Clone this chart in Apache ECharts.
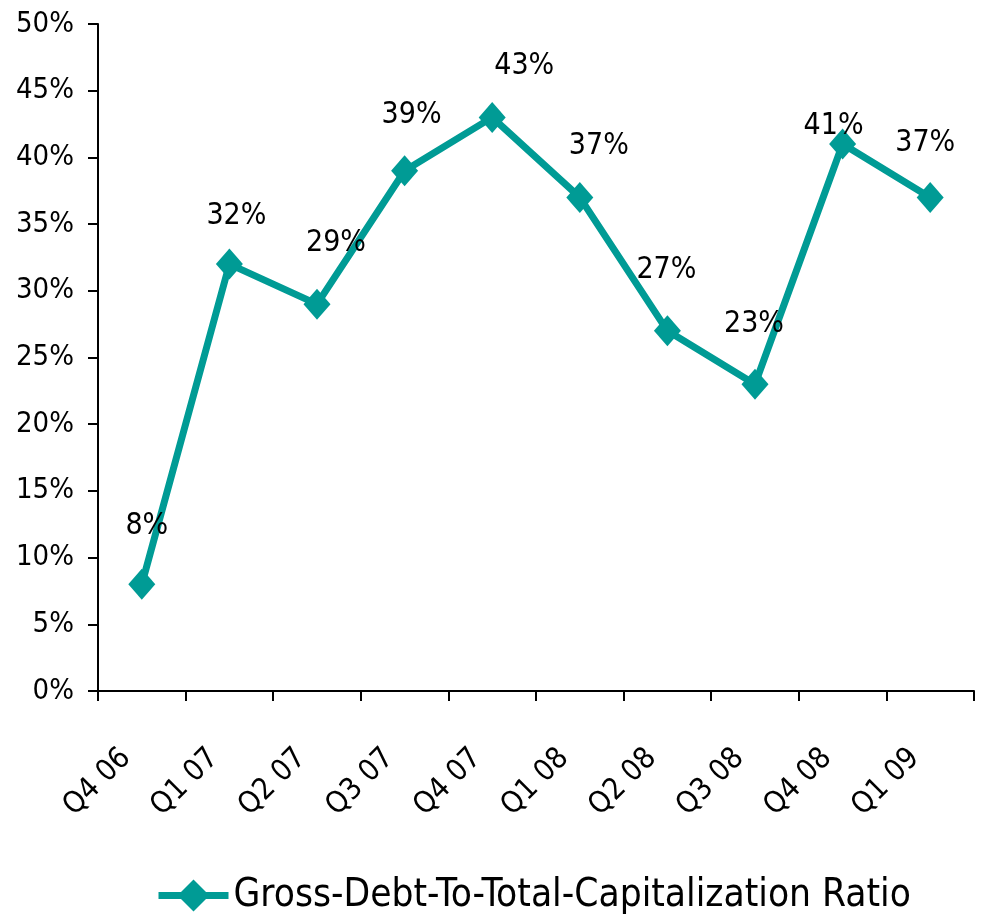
<!DOCTYPE html>
<html>
<head>
<meta charset="utf-8">
<script src="https://cdn.jsdelivr.net/npm/echarts@6/dist/echarts.min.js"></script>
<style>
  html, body { margin: 0; padding: 0; background: #fff; }
  #chart { width: 983px; height: 918px; }
</style>
</head>
<body>
<div id="chart"></div>
<script>
var quarters = ['Q4 06', 'Q1 07', 'Q2 07', 'Q3 07', 'Q4 07', 'Q1 08', 'Q2 08', 'Q3 08', 'Q4 08', 'Q1 09'];
var ratio = [8, 32, 29, 39, 43, 37, 27, 23, 41, 37];
var seriesName = 'Gross-Debt-To-Total-Capitalization Ratio';

// where each value label sits relative to its point (pixels), as placed in the original
var labelNudge = [[5, -58], [7, -48], [19, -61], [7, -56], [32, -51], [19, -51], [-1, -61], [-1, -60], [-9, -18], [-5, -54]];

var font = '"Liberation Sans Narrow", "DejaVu Sans Condensed", sans-serif';
var teal = '#009B95';

var points = ratio.map(function (v, i) {
  return { value: v, label: { offset: labelNudge[i] } };
});

var chartDom = document.getElementById('chart');
var myChart = echarts.init(chartDom);
var option;

option = {
  animation: false,
  grid: {
    left: 98,
    right: 9,
    top: 24,
    bottom: 227
  },
  legend: {
    top: 871,
    left: 150,
    itemWidth: 70,
    itemHeight: 40,
    lineStyle: { width: 7 },
    textStyle: { fontFamily: font, fontSize: 38.5, color: '#000' },
    data: [seriesName]
  },
  xAxis: {
    type: 'category',
    data: quarters,
    boundaryGap: true,
    axisLine: { lineStyle: { color: '#000', width: 2 } },
    axisTick: { show: true, length: 10, lineStyle: { color: '#000', width: 2 } },
    axisLabel: {
      interval: 0,
      rotate: 45,
      margin: 47,
      padding: [0, 22, 0, 0],
      color: '#000',
      fontFamily: font,
      fontSize: 30
    }
  },
  yAxis: {
    type: 'value',
    min: 0,
    max: 50,
    interval: 5,
    axisLine: { show: true, lineStyle: { color: '#000', width: 2 } },
    axisTick: { show: true, length: 10, lineStyle: { color: '#000', width: 2 } },
    splitLine: { show: false },
    axisLabel: {
      formatter: '{value}%',
      margin: 24,
      color: '#000',
      fontFamily: font,
      fontSize: 29
    }
  },
  series: [
    {
      name: seriesName,
      type: 'line',
      data: points,
      symbol: 'diamond',
      symbolSize: [27, 31],
      itemStyle: { color: teal },
      lineStyle: { color: teal, width: 7 },
      label: {
        show: true,
        position: 'inside',
        formatter: '{c}%',
        color: '#000',
        fontFamily: font,
        fontSize: 30
      }
    }
  ]
};

myChart.setOption(option);
</script>
</body>
</html>
